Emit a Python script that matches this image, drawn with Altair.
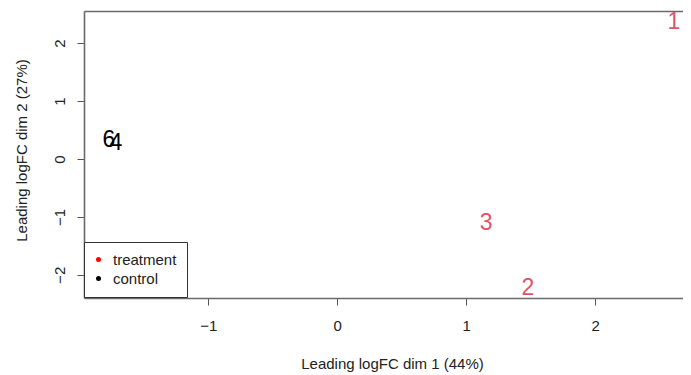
import altair as alt
import pandas as pd

labels = ["1", "2", "3", "6", "4"]
dim1 = [2.612, 1.479, 1.154, -1.771, -1.717]
dim2 = [2.371, -2.228, -1.105, 0.320, 0.276]
groups = ["treatment", "treatment", "treatment", "control", "control"]

legend_groups = ["treatment", "control"]
label_colors = ["#DF536B", "#000000"]
legend_colors = ["#FF0000", "#000000"]

x_ticks = [-1, 0, 1, 2]
y_ticks = [-2, -1, 0, 1, 2]

df = pd.DataFrame({"dim1": dim1, "dim2": dim2, "label": labels,
                   "group": groups, "legend_group": groups})

FONT = "Liberation Sans"
LINE = "#6a6a6a"
x_scale = alt.Scale(domain=[-1.965, 2.682], nice=False, zero=False)
y_scale = alt.Scale(domain=[-2.40, 2.556], nice=False, zero=False)

x_enc = alt.X(
    "dim1:Q", scale=x_scale,
    axis=alt.Axis(values=x_ticks, format="d", title="Leading logFC dim 1 (44%)", grid=False,
                  domain=True, domainColor=LINE, domainWidth=1.6,
                  tickSize=7, tickColor="#555", labelFontSize=15,
                  labelPadding=13, labelColor="#222", labelFont=FONT,
                  titleFont=FONT, titleFontSize=15, titleFontWeight="normal",
                  titleColor="#222", titleX=308, titleY=70,
                  titleBaseline="alphabetic", titleAnchor="start", titleAlign="center"),
)
y_enc = alt.Y(
    "dim2:Q", scale=y_scale,
    axis=alt.Axis(values=y_ticks, format="d", title="Leading logFC dim 2 (27%)", grid=False,
                  domain=True, domainColor=LINE, domainWidth=1.6,
                  tickSize=7, tickColor="#555", labelFontSize=15,
                  labelAngle=270, labelAlign="center", labelBaseline="alphabetic",
                  labelPadding=13, labelColor="#222", labelFont=FONT,
                  titleFont=FONT, titleFontSize=15, titleFontWeight="normal",
                  titleColor="#222", titleAngle=270, titleX=-58, titleY=139,
                  titleAlign="center", titleBaseline="alphabetic", titleAnchor="start"),
)

text = alt.Chart(df).mark_text(fontSize=23, font=FONT, align="center", baseline="middle").encode(
    x=x_enc, y=y_enc, text="label:N",
    color=alt.Color("group:N", scale=alt.Scale(domain=legend_groups, range=label_colors), legend=None),
)

pts = alt.Chart(df).mark_point(filled=True, size=25).encode(
    x=alt.X("dim1:Q", scale=x_scale,
            axis=alt.Axis(orient="top", labels=False, ticks=False, title=None, grid=False,
                          domain=True, domainColor=LINE, domainWidth=1.6)),
    y=alt.Y("dim2:Q", scale=y_scale),
    opacity=alt.value(0),
    fill=alt.Fill("legend_group:N", scale=alt.Scale(domain=legend_groups, range=legend_colors),
                  legend=alt.Legend(title=None, orient="none", legendX=0, legendY=231,
                                    strokeColor="#333", fillColor="white", padding=10,
                                    labelFontSize=15, labelFont=FONT, labelColor="#222",
                                    symbolSize=25, symbolType="circle", symbolOpacity=1,
                                    symbolStrokeWidth=0, symbolOffset=-3, labelOffset=7,
                                    rowPadding=3)),
)

chart = alt.layer(text, pts).resolve_axis(x="independent").resolve_scale(
    color="independent", fill="independent"
).properties(
    width=599, height=287,
    autosize=alt.AutoSizeParams(type="none"),
    padding={"left": 76, "top": 3, "right": 0, "bottom": 76},
).configure_view(stroke=None).configure(background="white")

chart.save("out.html", embed_options={"renderer": "svg", "actions": False})
